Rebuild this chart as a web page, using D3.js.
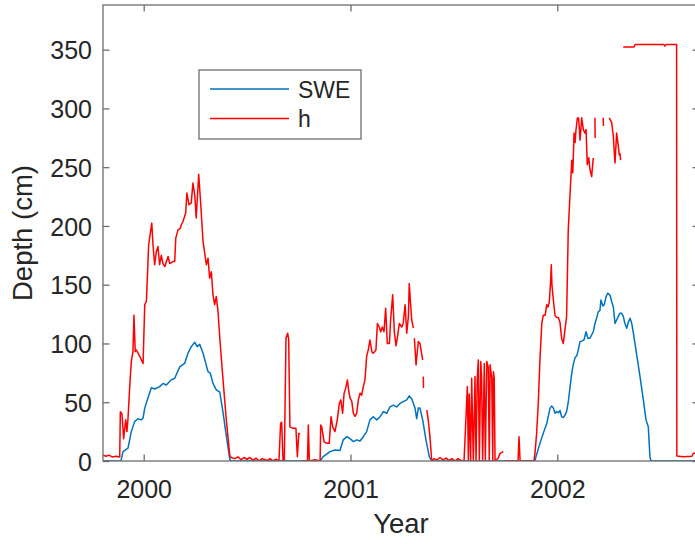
<!DOCTYPE html>
<html><head><meta charset="utf-8">
<script src="https://cdn.jsdelivr.net/npm/d3@7"></script>
<style>
body{margin:0;background:#fff}
svg{display:block}
text{font-family:"Liberation Sans",Arial,Helvetica,sans-serif;fill:#262626}
</style>
</head><body>
<svg id="chart" width="695" height="544"></svg>
<script>
// ---- data (decimal year, depth in cm) ----
const sweYears = [1999.803,1999.890,1999.900,1999.924,1999.940,1999.956,1999.972,1999.988,1999.997,2000.005,2000.021,2000.037,2000.053,2000.077,2000.093,2000.109,2000.133,2000.150,2000.174,2000.198,2000.214,2000.230,2000.247,2000.259,2000.271,2000.287,2000.311,2000.322,2000.335,2000.351,2000.368,2000.383,2000.399,2000.416,2000.421,
2000.853,2000.868,2000.901,2000.925,2000.949,2000.965,2000.982,2000.998,2001.014,2001.030,2001.046,2001.062,2001.078,2001.094,2001.110,2001.127,2001.143,2001.159,2001.175,2001.191,2001.207,2001.223,2001.239,2001.255,2001.272,2001.284,2001.296,2001.312,2001.320,2001.328,2001.336,2001.349,2001.365,2001.381,2001.393,
2001.892,2001.897,2001.916,2001.932,2001.949,2001.965,2001.973,2001.981,2001.989,2001.997,2002.005,2002.013,2002.021,2002.029,2002.037,2002.045,2002.053,2002.061,2002.070,2002.077,2002.086,2002.094,2002.102,2002.110,2002.119,2002.129,2002.139,2002.148,2002.158,2002.174,2002.182,2002.191,2002.198,2002.206,2002.211,2002.220,2002.227,2002.236,2002.244,2002.255,2002.263,2002.271,2002.279,2002.287,2002.295,2002.303,2002.311,2002.319,2002.327,2002.336,2002.343,2002.352,2002.360,2002.368,2002.384,2002.400,2002.416,2002.429,2002.440,2002.448,2002.453,2002.685];
const sweDepth = [0,0,8,11,25,33.5,36,35,36.6,45,54,62.4,61.3,63.3,66,64.7,69,70.4,80,83,91.7,97.3,101,97.3,99.4,91.7,76,74.7,66,60.5,58.5,42,22,2,0,
0,3.7,8,9.4,9,18,20.7,19,16.5,18,17,20.7,25,35,37.7,35,37.7,42,40.6,46,47.5,46,49,50.5,52,55.4,53,45,36,45,45,35,18,3.7,0,
0,3.7,15,23.5,32,45,46.8,45,40.6,42,41,43,37.7,37,39,42,50,62,75,82,88,89.5,95,101.6,102,103,110,104.5,104.5,110,117,122,127,128,137,132,133,140,142.8,141,135.7,131,117,120,123,125.8,125.8,123,117,113,118,121.5,117,108.7,90.3,71.8,52,35,29.2,3.7,0,0];

const hYears = [1999.803,1999.818,1999.832,1999.847,1999.866,1999.884,1999.887,1999.895,1999.903,1999.913,1999.919,1999.924,1999.932,1999.940,1999.948,1999.953,1999.959,1999.964,1999.981,1999.997,2000.005,2000.013,2000.024,2000.032,2000.039,2000.045,2000.053,2000.061,2000.069,2000.077,2000.085,2000.093,2000.102,2000.118,2000.126,2000.142,2000.150,2000.155,2000.166,2000.177,2000.182,2000.190,2000.203,2000.209,2000.219,2000.230,2000.238,2000.247,2000.254,2000.266,2000.276,2000.287,2000.303,2000.311,2000.319,2000.327,2000.335,2000.343,2000.351,2000.359,2000.368,2000.383,2000.399,2000.416,
2000.422,2000.441,2000.456,2000.471,2000.485,2000.500,2000.514,2000.529,2000.543,2000.558,2000.572,2000.587,2000.601,2000.611,2000.625,2000.640,2000.654,2000.662,2000.667,2000.674,2000.680,2000.688,2000.696,2000.701,2000.707,2000.723,2000.736,2000.743,2000.750,2000.756,2000.763,
2000.770,2000.792,2000.796,2000.801,2000.828,2000.853,2000.856,2000.861,2000.872,2000.885,2000.897,2000.906,2000.914,2000.925,2000.936,2000.946,2000.953,2000.962,2000.969,2000.977,2000.985,2000.991,2000.998,2001.006,2001.014,2001.022,2001.030,2001.038,2001.046,2001.054,2001.062,2001.070,2001.078,2001.086,2001.094,2001.103,2001.110,2001.123,2001.130,2001.139,2001.146,2001.154,2001.162,2001.170,2001.178,2001.188,2001.194,2001.204,2001.212,2001.220,2001.228,2001.236,2001.248,2001.255,2001.264,2001.272,2001.280,2001.284,2001.296,2001.304,2001.306,
2001.309,2001.317,2001.323,2001.328,2001.336,2001.341,2001.349,2001.350,
2001.352,2001.353,2001.360,
2001.369,2001.376,2001.384,2001.393,2001.404,2001.418,2001.433,2001.447,2001.462,2001.476,2001.491,2001.505,2001.520,2001.534,2001.544,2001.549,2001.565,2001.570,2001.574,2001.581,2001.586,2001.594,2001.602,2001.607,2001.613,2001.618,2001.623,2001.630,2001.634,2001.639,2001.647,2001.652,2001.659,2001.666,2001.671,2001.675,2001.683,2001.688,2001.691,2001.695,2001.699,2001.704,2001.713,2001.723,2001.739,2001.743,
2001.747,2001.810,2001.815,2001.820,2001.887,2001.892,2001.900,2001.908,2001.916,2001.925,2001.932,2001.941,2001.949,2001.955,2001.961,2001.968,2001.971,2001.974,2001.981,2001.989,2001.997,2002.005,2002.013,2002.021,2002.029,2002.037,2002.045,2002.053,2002.061,2002.070,2002.075,2002.081,2002.086,2002.090,2002.097,2002.103,2002.110,2002.118,2002.126,2002.134,2002.139,2002.145,2002.152,2002.158,2002.166,2002.174,2002.178,
2002.182,2002.183,2002.200,
2002.222,2002.223,2002.240,
2002.251,2002.263,2002.271,2002.279,2002.287,2002.295,2002.300,2002.301,
2002.303,2002.306,2002.312,
2002.319,2002.371,2002.376,2002.516,2002.521,2002.526,2002.577,2002.578,2002.608,2002.650,2002.658,2002.685];
const hDepth = [5,4,5,3.5,4,3.5,42,40,19,35,25,36,62,84.6,93,124,93,94.5,89,83,133,135.7,184,194,202.4,184,167,178,182.5,167,175,168,165.5,174,168,169.7,169.7,189.6,196.7,198,201,203.8,211,228,218,219.6,236.5,226,206.7,244,218,186.7,167,172.6,155.6,161,141.4,133,140,128,104.5,70.4,36,5,
3,2,3.5,1,3,1.5,3,0.5,2.5,0,2,1,0.5,2,0,1.5,0,32,33,0,0,104.5,108.7,104,29,27.8,27.8,3.7,23.5,23,null,
0,0,30.6,0,1,0,30.6,29,16.5,15,15,37.7,29,25,35,49,52,40.6,57.7,62,69,60,53.4,51,40.6,38,40.6,52,57.7,56,63.3,69,89,94.5,103,93,91.7,94.5,117,114,110,114,110,130,100,100,120,141.4,110,98,106.5,117,114,117,133,108.7,123,151,120,113,null,
104.5,81.7,93,101.6,100,94.5,86,null,
71.8,62,null,
43.4,35,21,0,2,1,3,1,2.5,0.5,2,0,2,0.5,0,0,63.3,0,57,0,70.4,0,72,0,70,86,0,84.6,70.4,0,83,0,84.6,80,0,82,70.4,0,76,70.4,0,1,2,6.5,8,null,
0,0,20.7,0,0,6.5,23.5,49,86,117,124,124,133,131,135,154,167,150,137,124,122,122,118,104.5,100,111.6,123,196.7,225,256,245,279,271,281,291.8,291.8,273,292,282,279,282,252,258,248,242,257.8,null,
292,274.8,null,
292,285,null,
292,288,276,253.5,279,268,260,null,
262,256,null,
352.3,352.3,354.3,354.3,353,354.3,354.3,4.3,3.7,4,6.5,7];

const seriesNames = ["SWE", "h"];
const seriesColors = ["#0072BD", "#FF0000"];
const yearTicks = [2000, 2001, 2002];
const depthTicks = [0, 50, 100, 150, 200, 250, 300, 350];
const xLabel = "Year";
const yLabel = "Depth (cm)";

// ---- layout ----
const L = 103, R = 699, T = 5, B = 461;
const axisColor = "#6e6e6e";
const svg = d3.select("#chart");

const x = d3.scaleLinear().domain([1999.8032, 2002.6852]).range([L, R]);
const y = d3.scaleLinear().domain([0, 388]).range([B, T]);

svg.append("defs").append("clipPath").attr("id", "plotClip")
  .append("rect").attr("x", L).attr("y", T).attr("width", R - L).attr("height", B - T);

const swe = sweYears.map((t, i) => ({t, v: sweDepth[i]}));
const hh = hYears.map((t, i) => ({t, v: hDepth[i]}));

const line = d3.line().defined(d => d.v !== null).x(d => x(d.t)).y(d => y(d.v));

const plot = svg.append("g").attr("clip-path", "url(#plotClip)");
[swe, hh].forEach((data, i) => {
  plot.append("path").datum(data)
    .attr("fill", "none").attr("stroke", seriesColors[i])
    .attr("stroke-width", 1.5).attr("stroke-linejoin", "round")
    .attr("d", line);
});

// axes
function styleAxis(g) {
  g.select(".domain").remove();
  g.selectAll(".tick line").attr("stroke", axisColor).attr("stroke-width", 1.3);
  g.selectAll(".tick text").attr("fill", "#262626").style("font-size", "25px")
    .style("font-family", '"Liberation Sans",Arial,Helvetica,sans-serif');
}
svg.append("g").attr("transform", `translate(0,${B})`)
  .call(d3.axisBottom(x).tickValues(yearTicks).tickFormat(d3.format("d")).tickSizeInner(-6.5).tickSizeOuter(0).tickPadding(19))
  .call(styleAxis);
svg.append("g").attr("transform", `translate(${L},0)`)
  .call(d3.axisLeft(y).tickValues(depthTicks).tickSizeInner(-6.5).tickSizeOuter(0).tickPadding(11))
  .call(styleAxis)
  .selectAll(".tick text").attr("dy", "0.37em");
svg.append("g").attr("transform", `translate(0,${T})`)
  .call(d3.axisTop(x).tickValues(yearTicks).tickFormat("").tickSizeInner(-6.5).tickSizeOuter(0))
  .call(styleAxis);
svg.append("g").attr("transform", `translate(${R},0)`)
  .call(d3.axisRight(y).tickValues(depthTicks).tickFormat("").tickSizeInner(-6.5).tickSizeOuter(0))
  .call(styleAxis);

svg.append("rect").attr("x", L).attr("y", T).attr("width", R - L).attr("height", B - T)
  .attr("fill", "none").attr("stroke", axisColor).attr("stroke-width", 1.3);

// axis labels
svg.append("text").attr("x", (L + R) / 2).attr("y", 533)
  .attr("text-anchor", "middle").style("font-size", "27.5px").text(xLabel);
svg.append("text").attr("transform", `translate(32,${(T + B) / 2}) rotate(-90)`)
  .attr("text-anchor", "middle").style("font-size", "27.5px").text(yLabel);

// legend
const lg = svg.append("g");
lg.append("rect").attr("x", 199).attr("y", 70).attr("width", 162).attr("height", 69)
  .attr("fill", "#fff").attr("stroke", axisColor).attr("stroke-width", 1.3);
seriesNames.forEach((name, i) => {
  const yy = 89 + i * 29.5;
  lg.append("line").attr("x1", 210).attr("x2", 289).attr("y1", yy).attr("y2", yy)
    .attr("stroke", seriesColors[i]).attr("stroke-width", 1.5);
  lg.append("text").attr("x", 298).attr("y", yy + 8.5).style("font-size", "23px").text(name);
});
</script>
</body></html>
